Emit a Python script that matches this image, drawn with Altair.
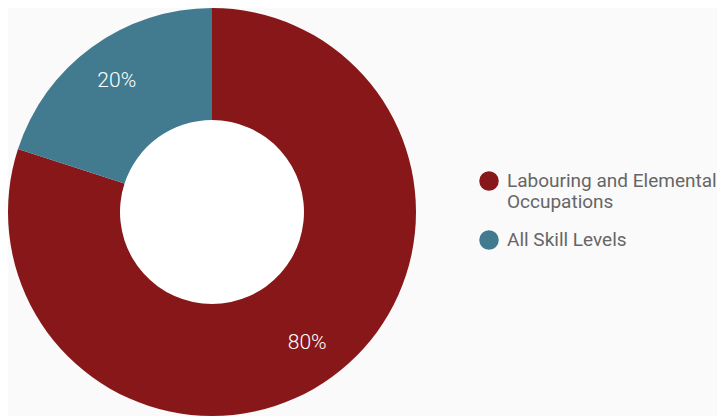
import altair as alt
import pandas as pd

categories = ["Labouring and Elemental Occupations", "All Skill Levels"]
values = [80, 20]
labels = ["80%", "20%"]
colors = ["#881719", "#427b8f"]

df = pd.DataFrame({"category": categories, "value": values, "label": labels, "idx": [0, 1]})

base = alt.Chart(df).encode(
    theta=alt.Theta("value:Q", stack=True),
    order=alt.Order("idx:Q"),
)

arcs = base.mark_arc(outerRadius=204, innerRadius=92, stroke=None).encode(
    color=alt.Color(
        "category:N",
        scale=alt.Scale(domain=categories, range=colors),
        sort=categories,
        legend=alt.Legend(
            title=None,
            orient="none",
            legendX=471,
            legendY=162,
            symbolType="circle",
            symbolSize=380,
            symbolStrokeWidth=0,
            labelFont="Roboto",
            labelFontSize=19,
            labelColor="#666666",
            labelOffset=8,
            labelLimit=400,
            rowPadding=18,
            labelExpr="datum.label == 'Labouring and Elemental Occupations' ? ['Labouring and Elemental', 'Occupations'] : datum.label",
        ),
    )
)

hole = alt.Chart(pd.DataFrame({"v": [1]})).mark_arc(
    outerRadius=92, innerRadius=0, color="#ffffff"
).encode(theta=alt.value(0), theta2=alt.value(7))

text = base.mark_text(radius=162, font="Roboto", fontSize=21, fontWeight=300, color="#ffffff").encode(
    text="label:N"
)

chart = (
    alt.layer(hole, arcs, text)
    .properties(width=408, height=406, padding=0, background="#fafafa")
    .configure_view(stroke=None)
)

chart.save("out.html", embed_options={"renderer": "svg", "actions": False})
